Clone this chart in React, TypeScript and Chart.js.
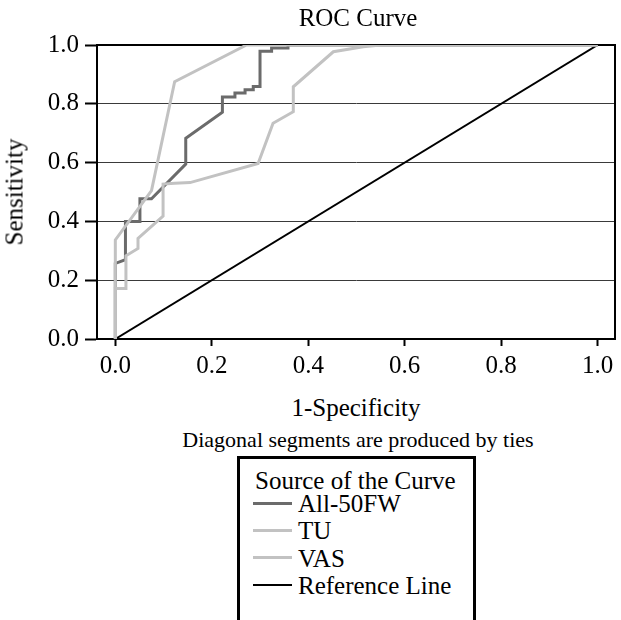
import React, { useEffect, useRef } from "react";
import { Chart, registerables } from "chart.js";

Chart.register(...registerables);

const SERIES_NAMES = ["All-50FW", "TU", "VAS", "Reference Line"];
const SERIES_COLORS = ["#6b6b6b", "#c2c2c2", "#c2c2c2", "#000000"];
const SERIES_WIDTHS = [3, 3, 3, 2];

const ALL50_X = [0, 0, 0.021, 0.021, 0.051, 0.051, 0.075, 0.146, 0.146, 0.222, 0.222, 0.248, 0.248, 0.269, 0.269, 0.286, 0.286, 0.3, 0.3, 0.324, 0.324, 0.358, 0.358, 1];
const ALL50_Y = [0, 0.257, 0.27, 0.4, 0.4, 0.477, 0.477, 0.595, 0.683, 0.771, 0.823, 0.823, 0.837, 0.837, 0.848, 0.848, 0.859, 0.859, 0.979, 0.979, 0.99, 0.99, 1, 1];

const TU_X = [0, 0, 0.075, 0.123, 0.272, 1];
const TU_Y = [0, 0.337, 0.505, 0.875, 1, 1];

const VAS_X = [0, 0, 0.022, 0.022, 0.047, 0.047, 0.099, 0.099, 0.123, 0.155, 0.296, 0.327, 0.369, 0.369, 0.452, 0.514, 0.55, 1];
const VAS_Y = [0, 0.172, 0.172, 0.283, 0.308, 0.342, 0.418, 0.527, 0.53, 0.532, 0.597, 0.734, 0.773, 0.858, 0.977, 0.994, 1, 1];

const REF_X = [0, 1];
const REF_Y = [0, 1];

const X_TICKS = [0, 0.2, 0.4, 0.6, 0.8, 1.0];
const Y_TICKS = [0, 0.2, 0.4, 0.6, 0.8, 1.0];

const TITLE = "ROC Curve";
const X_TITLE = "1-Specificity";
const Y_TITLE = "Sensitivity";
const NOTE = "Diagonal segments are produced by ties";
const LEGEND_TITLE = "Source of the Curve";

const FONT = '"Liberation Serif", serif';

const toPts = (xs: number[], ys: number[]) => xs.map((x, i) => ({ x, y: ys[i] }));

const framePlugin = {
  id: "frame",
  beforeDatasetsDraw(chart: any) {
    const { ctx, chartArea } = chart;
    ctx.save();
    ctx.strokeStyle = "#000";
    ctx.lineWidth = 2;
    ctx.strokeRect(chartArea.left, chartArea.top, chartArea.right - chartArea.left, chartArea.bottom - chartArea.top);
    ctx.restore();
  },
};

export default function App() {
  const ref = useRef<HTMLCanvasElement | null>(null);

  useEffect(() => {
    let chart: any = null;
    let cancelled = false;
    const build = () => {
      if (cancelled || !ref.current) return;
      const series = [
        toPts(ALL50_X, ALL50_Y),
        toPts(TU_X, TU_Y),
        toPts(VAS_X, VAS_Y),
        toPts(REF_X, REF_Y),
      ];
      const orders = [3, 1, 2, 4];
      chart = new Chart(ref.current, {
        type: "line",
        data: {
          datasets: series.map((d, i) => ({
            label: SERIES_NAMES[i],
            data: d,
            borderColor: SERIES_COLORS[i],
            backgroundColor: SERIES_COLORS[i],
            borderWidth: SERIES_WIDTHS[i],
            pointRadius: 0,
            tension: 0,
            fill: false,
            order: orders[i],
          })),
        },
        options: {
          animation: false,
          responsive: false,
          maintainAspectRatio: false,
          layout: { padding: { top: 45, right: 6, left: 0, bottom: 0 } },
          plugins: {
            legend: { display: false },
            title: { display: false },
            tooltip: { enabled: false },
          },
          scales: {
            x: {
              type: "linear",
              min: -0.038,
              max: 1.036,
              afterBuildTicks: (s: any) => {
                s.ticks = X_TICKS.map((v) => ({ value: v }));
              },
              afterFit: (s: any) => {
                s.height = 390 - 339;
              },
              ticks: {
                callback: (v: any) => Number(v).toFixed(1),
                color: "#000",
                font: { family: FONT, size: 25 },
                padding: 5,
                maxRotation: 0,
                autoSkip: false,
              },
              grid: {
                drawOnChartArea: false,
                drawTicks: true,
                tickLength: 7,
                tickWidth: 2,
                tickColor: "#000",
              },
              border: { display: true, color: "#000", width: 2 },
            },
            y: {
              type: "linear",
              min: 0,
              max: 1,
              afterBuildTicks: (s: any) => {
                s.ticks = Y_TICKS.map((v) => ({ value: v }));
              },
              afterFit: (s: any) => {
                s.width = 97;
              },
              ticks: {
                callback: (v: any) => Number(v).toFixed(1),
                color: "#000",
                font: { family: FONT, size: 25 },
                padding: 6,
              },
              grid: {
                color: "#3a3a3a",
                lineWidth: 1,
                drawTicks: true,
                tickLength: 12,
                tickWidth: 2,
                tickColor: "#000",
              },
              border: { display: true, color: "#000", width: 2 },
            },
          },
        },
        plugins: [framePlugin],
      } as any);
    };
    const fonts: any = (document as any).fonts;
    if (fonts && fonts.load) {
      fonts.load('25px "Liberation Serif"').then(build, build);
    } else {
      build();
    }
    return () => {
      cancelled = true;
      if (chart) chart.destroy();
    };
  }, []);

  const textBase: React.CSSProperties = {
    position: "absolute",
    fontFamily: FONT,
    color: "#000",
    whiteSpace: "nowrap",
    lineHeight: 1,
  };

  return (
    <div style={{ position: "fixed", left: 0, top: 0, width: 621, height: 620, background: "#fff", overflow: "hidden", fontFamily: FONT }}>
      <canvas ref={ref} width={621} height={390} style={{ position: "absolute", left: 0, top: 0, width: 621, height: 390 }} />
      <div style={{ ...textBase, left: 358, top: 17, fontSize: 25, transform: "translate(-50%, -50%)" }}>{TITLE}</div>
      <div style={{ ...textBase, left: 14, top: 192, fontSize: 25, transform: "translate(-50%, -50%) rotate(-90deg)" }}>{Y_TITLE}</div>
      <div style={{ ...textBase, left: 356, top: 407, fontSize: 25, transform: "translate(-50%, -50%)" }}>{X_TITLE}</div>
      <div style={{ ...textBase, left: 358, top: 440, fontSize: 22, transform: "translate(-50%, -50%)" }}>{NOTE}</div>
      <div
        style={{
          position: "absolute",
          left: 237,
          top: 456,
          width: 233,
          height: 200,
          borderLeft: "3px solid #000",
          borderTop: "3px solid #000",
          borderRight: "3px solid #000",
        }}
      />
      <div style={{ ...textBase, left: 255, top: 480, fontSize: 25, transform: "translateY(-50%)" }}>{LEGEND_TITLE}</div>
      {SERIES_NAMES.map((name, i) => {
        const cy = 503 + i * 27.4;
        return (
          <React.Fragment key={name}>
            <div
              style={{
                position: "absolute",
                left: 253,
                top: cy - SERIES_WIDTHS[i] / 2,
                width: 39,
                height: SERIES_WIDTHS[i],
                background: SERIES_COLORS[i],
              }}
            />
            <div style={{ ...textBase, left: 298, top: cy, fontSize: 25, transform: "translateY(-50%)" }}>{name}</div>
          </React.Fragment>
        );
      })}
    </div>
  );
}
